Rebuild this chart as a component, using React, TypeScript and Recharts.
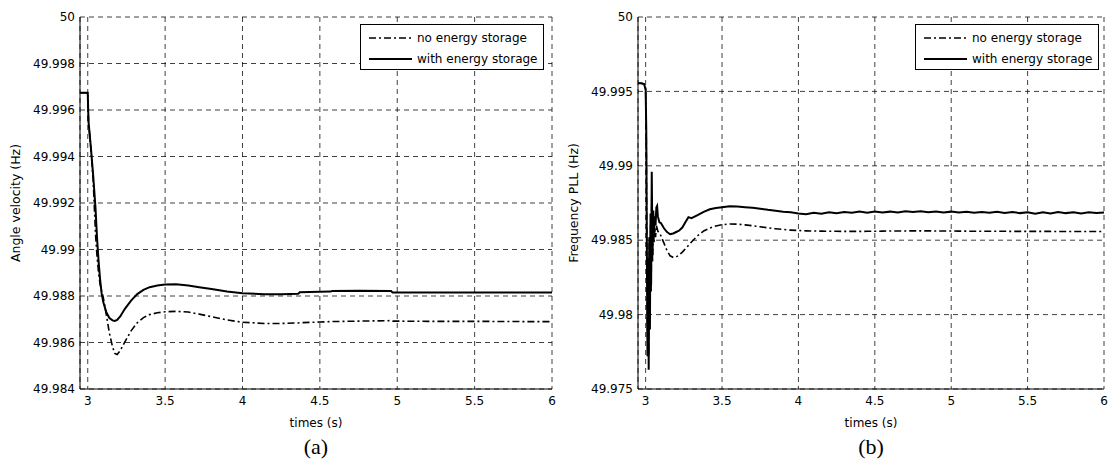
import { useMemo } from "react";
import { LineChart, Line, XAxis, YAxis, CartesianGrid } from "recharts";

// (a) angle velocity
const timesA = [
    2.95, 2.98, 3.0, 3.005, 3.02, 3.035, 3.05, 3.06, 3.07, 3.08, 3.09, 3.1, 3.12, 3.14, 3.16,
    3.175, 3.19, 3.21, 3.24, 3.28, 3.32, 3.36, 3.4, 3.45, 3.5, 3.57, 3.65, 3.72, 3.8, 3.9,
    4.0, 4.14, 4.25, 4.36, 4.37, 4.5, 4.57, 4.58, 4.75, 4.96, 4.97, 5.2, 5.5, 5.8, 6.0,
];
const noStorageA = [
    49.99674, 49.99674, 49.99674, 49.9955, 49.9944, 49.993, 49.9907, 49.9897, 49.989, 49.9885,
    49.9882, 49.98795, 49.9872, 49.9864, 49.98582, 49.98553, 49.98548, 49.98565, 49.98603, 49.9865,
    49.98685, 49.98707, 49.9872, 49.98728, 49.98732, 49.98734, 49.98731, 49.98722, 49.98711, 49.98697,
    49.98687, 49.98682, 49.98682, 49.98684, 49.98685, 49.98688, 49.9869, 49.9869, 49.98692, 49.98694,
    49.98692, 49.98691, 49.98691, 49.9869, 49.9869,
];
const withStorageA = [
    49.99674, 49.99674, 49.99674, 49.9955, 49.9944, 49.9932, 49.9918, 49.9905, 49.9895, 49.9887,
    49.9881, 49.98775, 49.9873, 49.98705, 49.98695, 49.98693, 49.98697, 49.98712, 49.98745, 49.9878,
    49.98808, 49.98826, 49.98838, 49.98845, 49.98849, 49.9885, 49.98845, 49.98838, 49.9883, 49.98819,
    49.98812, 49.98808, 49.98808, 49.9881, 49.98816, 49.98818, 49.98819, 49.98822, 49.98823, 49.98821,
    49.98815, 49.98815, 49.98815, 49.98815, 49.98815,
];

// (b) PLL frequency
const timesB = [
    2.95, 2.97, 2.99, 2.995, 3.0, 3.004, 3.008, 3.012, 3.016, 3.02,
    3.024, 3.028, 3.032, 3.036, 3.04, 3.045, 3.05, 3.055, 3.06, 3.065,
    3.07, 3.075, 3.08, 3.09, 3.1, 3.12, 3.14, 3.16, 3.18, 3.2,
    3.22, 3.24, 3.26, 3.28, 3.3, 3.34, 3.38, 3.42, 3.46, 3.5,
    3.55, 3.6, 3.65, 3.7, 3.75, 3.8, 3.85, 3.9, 3.95, 4.0,
    4.05, 4.1, 4.15, 4.2, 4.25, 4.3, 4.35, 4.4, 4.45, 4.5,
    4.55, 4.6, 4.65, 4.7, 4.75, 4.8, 4.85, 4.9, 4.95, 5.0,
    5.05, 5.1, 5.15, 5.2, 5.25, 5.3, 5.35, 5.4, 5.45, 5.5,
    5.55, 5.6, 5.65, 5.7, 5.75, 5.8, 5.85, 5.9, 5.95, 6.0,
];
const noStorageB = [
    49.99555, 49.99555, 49.9955, 49.9953, 49.9951, 49.9922, 49.9838, 49.9785, 49.9832, 49.9772,
    49.9848, 49.9795, 49.986, 49.9815, 49.988, 49.9835, 49.9862, 49.9848, 49.9858, 49.9852,
    49.986, 49.9858, 49.9856, 49.9855, 49.9853, 49.9848, 49.9843, 49.98395, 49.98385, 49.98388,
    49.984, 49.9842, 49.98442, 49.98465, 49.98488, 49.9853, 49.98562, 49.98582, 49.98596, 49.98604,
    49.98609, 49.98608, 49.98603, 49.98597, 49.9859, 49.98583, 49.98577, 49.98572, 49.98568, 49.98565,
    49.98563, 49.98562, 49.98561, 49.9856, 49.9856, 49.98559, 49.98559, 49.98559, 49.9856, 49.9856,
    49.98561, 49.98562, 49.98562, 49.98562, 49.98563, 49.98563, 49.98563, 49.98562, 49.98562, 49.98562,
    49.98561, 49.98561, 49.9856, 49.9856, 49.9856, 49.9856, 49.9856, 49.98559, 49.98559, 49.98559,
    49.98559, 49.98559, 49.98559, 49.98558, 49.98558, 49.98558, 49.98558, 49.98558, 49.98558, 49.98558,
];
const withStorageB = [
    49.99555, 49.99555, 49.9955, 49.9953, 49.9952, 49.9925, 49.9845, 49.9772, 49.9838, 49.9763,
    49.9852, 49.979, 49.9868, 49.982, 49.9896, 49.984, 49.987, 49.9855, 49.9866, 49.986,
    49.9872, 49.9873, 49.9866, 49.9862, 49.98615, 49.9858, 49.98555, 49.9854, 49.98545, 49.98555,
    49.98565, 49.98585, 49.9862, 49.98655, 49.98648, 49.98668, 49.9869, 49.98708, 49.98716, 49.98722,
    49.98728, 49.98726, 49.98722, 49.98718, 49.98712, 49.98704, 49.98698, 49.98692, 49.98688, 49.9868,
    49.98674, 49.98684, 49.98678, 49.98688, 49.98681, 49.9869, 49.98684, 49.98692, 49.98685, 49.98693,
    49.98687, 49.98692, 49.98686, 49.98694, 49.98689, 49.98695, 49.98688, 49.98693, 49.98687, 49.98692,
    49.98686, 49.98691, 49.98684, 49.9869, 49.98685, 49.98691, 49.98683, 49.9869, 49.98682, 49.98688,
    49.98678, 49.98688, 49.9868, 49.9869, 49.98682, 49.98688, 49.9868, 49.98688, 49.98682, 49.98686,
];

const xTicks = [3, 3.5, 4, 4.5, 5, 5.5, 6];
const yTicksA = [49.984, 49.986, 49.988, 49.99, 49.992, 49.994, 49.996, 49.998, 50];
const yTicksB = [49.975, 49.98, 49.985, 49.99, 49.995, 50];

const legendItems = [
    { label: "no energy storage", dash: "7 3 2 3" },
    { label: "with energy storage", dash: undefined },
];

const X_DOMAIN: [number, number] = [2.95, 6];
const FONT = "'DejaVu Sans', sans-serif";
const PANEL_W = 558;

// matlab-style labels: 49.990 -> "49.99", 50.000 -> "50"
const fmt = (v: number) => String(Number(v.toFixed(3)));

interface PanelProps {
    left: number;
    rightMargin: number;
    legendLeft: number;
    times: number[];
    noStorage: number[];
    withStorage: number[];
    yTicks: number[];
    yTitle: string;
    caption: string;
}

function LegendBox({ left }: { left: number }) {
    return (
        <div style={{ ...styles.legend, left }}>
            {legendItems.map((item) => (
                <div key={item.label} style={styles.legendRow}>
                    <svg width={43} height={4} style={{ marginRight: 5 }}>
                        <line
                            x1={0}
                            y1={2}
                            x2={43}
                            y2={2}
                            stroke="#000"
                            strokeWidth={item.dash ? 1.6 : 2}
                            strokeDasharray={item.dash}
                        />
                    </svg>
                    <span>{item.label}</span>
                </div>
            ))}
        </div>
    );
}

function Panel({
    left,
    rightMargin,
    legendLeft,
    times,
    noStorage,
    withStorage,
    yTicks,
    yTitle,
    caption,
}: PanelProps) {
    const data = useMemo(
        () => times.map((t, i) => ({ t, no: noStorage[i], with: withStorage[i] })),
        [times, noStorage, withStorage]
    );
    const yDomain: [number, number] = [yTicks[0], yTicks[yTicks.length - 1]];
    const tickStyle = { fill: "#000", fontSize: 12, fontFamily: FONT };
    const plotW = PANEL_W - 80 - rightMargin;

    return (
        <div style={{ position: "absolute", left, top: 0, width: PANEL_W, height: 461 }}>
            <LineChart
                width={PANEL_W}
                height={461}
                data={data}
                margin={{ top: 17, right: rightMargin, bottom: 31, left: 0 }}
            >
                <CartesianGrid stroke="#000" strokeWidth={0.75} strokeDasharray="5 4" />
                <XAxis
                    dataKey="t"
                    type="number"
                    domain={X_DOMAIN}
                    ticks={xTicks}
                    interval={0}
                    allowDataOverflow
                    height={41}
                    tickLine={false}
                    tickSize={0}
                    tickMargin={7}
                    tick={tickStyle}
                    axisLine={{ stroke: "#000", strokeWidth: 1 }}
                    label={{
                        value: "times (s)",
                        position: "insideBottom",
                        offset: 3,
                        fill: "#000",
                        fontSize: 12,
                        fontFamily: FONT,
                    }}
                />
                {/* top and right edges of the box */}
                <XAxis
                    xAxisId="top"
                    orientation="top"
                    type="number"
                    domain={X_DOMAIN}
                    height={0}
                    tick={false}
                    tickLine={false}
                    axisLine={{ stroke: "#000", strokeWidth: 1 }}
                />
                <YAxis
                    type="number"
                    domain={yDomain}
                    ticks={yTicks}
                    interval={0}
                    allowDataOverflow
                    width={80}
                    tickLine={false}
                    tickSize={0}
                    tickMargin={5}
                    tickFormatter={fmt}
                    tick={tickStyle}
                    axisLine={{ stroke: "#000", strokeWidth: 1 }}
                    label={{
                        value: yTitle,
                        angle: -90,
                        position: "insideLeft",
                        offset: 16,
                        fill: "#000",
                        fontSize: 12.5,
                        fontFamily: FONT,
                        style: { textAnchor: "middle" },
                    }}
                />
                <YAxis
                    yAxisId="right"
                    orientation="right"
                    type="number"
                    domain={yDomain}
                    width={0}
                    tick={false}
                    tickLine={false}
                    axisLine={{ stroke: "#000", strokeWidth: 1 }}
                />
                <Line
                    type="linear"
                    dataKey="no"
                    stroke="#000"
                    strokeWidth={1.6}
                    strokeDasharray="7 3 2 3"
                    dot={false}
                    activeDot={false}
                    isAnimationActive={false}
                />
                <Line
                    type="linear"
                    dataKey="with"
                    stroke="#000"
                    strokeWidth={2}
                    dot={false}
                    activeDot={false}
                    isAnimationActive={false}
                />
            </LineChart>
            <LegendBox left={legendLeft} />
            <div style={{ ...styles.caption, width: plotW }}>{caption}</div>
        </div>
    );
}

export default function App() {
    return (
        <div style={styles.page}>
            <Panel
                left={0}
                rightMargin={6}
                legendLeft={360}
                times={timesA}
                noStorage={noStorageA}
                withStorage={withStorageA}
                yTicks={yTicksA}
                yTitle="Angle velocity (Hz)"
                caption="(a)"
            />
            <Panel
                left={PANEL_W}
                rightMargin={12}
                legendLeft={357}
                times={timesB}
                noStorage={noStorageB}
                withStorage={withStorageB}
                yTicks={yTicksB}
                yTitle="Frequency PLL (Hz)"
                caption="(b)"
            />
        </div>
    );
}

const styles: Record<string, React.CSSProperties> = {
    page: {
        position: "absolute",
        left: 0,
        top: 0,
        width: 1109,
        height: 461,
        overflow: "hidden",
        background: "#fff",
    },
    legend: {
        position: "absolute",
        top: 24,
        width: 184,
        height: 46,
        boxSizing: "border-box",
        border: "1px solid #000",
        background: "#fff",
        paddingTop: 2,
        fontFamily: FONT,
        fontSize: 12,
        color: "#000",
        whiteSpace: "nowrap",
    },
    legendRow: {
        display: "flex",
        alignItems: "center",
        height: 21,
        paddingLeft: 8,
    },
    caption: {
        position: "absolute",
        left: 80,
        top: 436,
        textAlign: "center",
        fontFamily: "'Liberation Serif', serif",
        fontSize: 22,
        lineHeight: "22px",
        color: "#000",
    },
};
